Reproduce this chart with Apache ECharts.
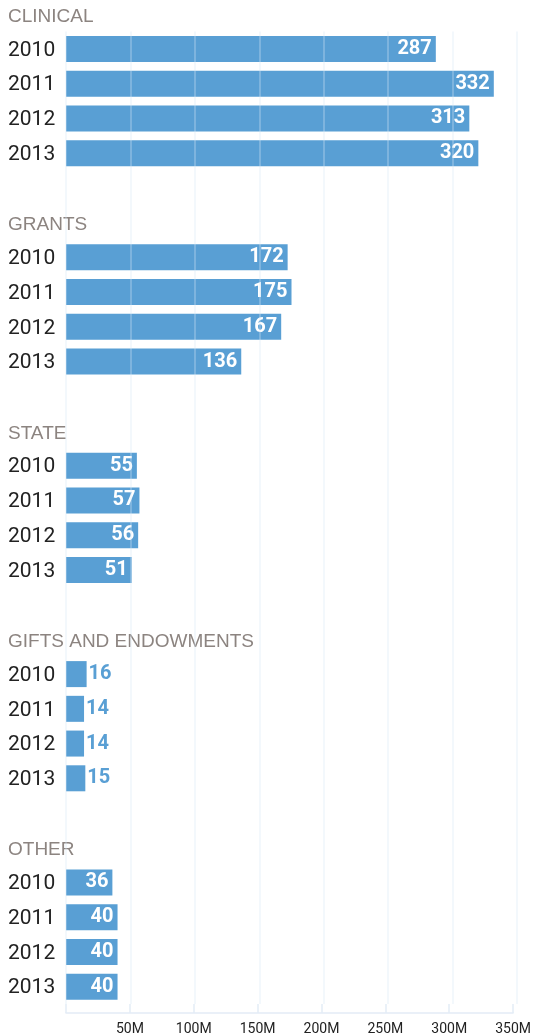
<!DOCTYPE html>
<html>
<head>
<meta charset="utf-8">
<script src="https://cdn.jsdelivr.net/npm/echarts@6/dist/echarts.min.js"></script>
<style>
html,body{margin:0;padding:0;background:#fff;}
#chart{width:534px;height:1036px;}
</style>
</head>
<body>
<div id="chart"></div>
<script>
// ---- data ----
var groups = ['CLINICAL', 'GRANTS', 'STATE', 'GIFTS AND ENDOWMENTS', 'OTHER'];
var years = ['2010', '2011', '2012', '2013'];
var clinical = [287, 332, 313, 320];
var grants = [172, 175, 167, 136];
var state = [55, 57, 56, 51];
var gifts = [16, 14, 14, 15];
var other = [36, 40, 40, 40];
var tickLabels = ['', '50M', '100M', '150M', '200M', '250M', '300M', '350M'];

var groupValues = [clinical, grants, state, gifts, other];

// ---- build rows ----
var NARROW = 'Roboto, "DejaVu Sans Condensed", sans-serif';
var SANS = '"Liberation Sans", Arial, sans-serif';
var BAR = '#599fd4';

var cats = [], vals = [], isHeader = [];
groupValues.forEach(function (arr, g) {
  if (g > 0) {
    cats.push(''); vals.push(null); isHeader.push(false);
    cats.push(groups[g]); vals.push(null); isHeader.push(true);
  }
  arr.forEach(function (v, i) {
    cats.push(years[i]);
    isHeader.push(false);
    if (v < 30) {
      vals.push({ value: v, label: { position: 'right', distance: 2, color: BAR } });
    } else {
      vals.push(v);
    }
  });
});

var rowH = 34.73;
var gridTop = 31.6;
var gridH = rowH * cats.length;

var chart = echarts.init(document.getElementById('chart'));
chart.setOption({
  animation: false,
  backgroundColor: '#fff',
  title: {
    text: groups[0],
    left: 8,
    top: 7,
    padding: 0,
    textStyle: { fontFamily: SANS, fontSize: 19, fontWeight: 'normal', color: '#8c8480' }
  },
  grid: [
    { left: 66, right: 17, top: gridTop, height: gridH },
    { left: 66, right: 17, top: gridTop + gridH, height: 11 }
  ],
  xAxis: [
    {
      gridIndex: 0, type: 'value', min: 0, max: 350, interval: 50, z: 3,
      axisLine: { show: false }, axisTick: { show: false }, axisLabel: { show: false },
      splitLine: { show: true, lineStyle: { color: 'rgba(215,230,246,0.4)', width: 1.5 } }
    },
    {
      gridIndex: 1, type: 'value', min: 0, max: 350, interval: 50, position: 'bottom',
      axisLine: { show: true, lineStyle: { color: '#e3ecf6', width: 1.5 } },
      axisTick: { show: false },
      splitLine: { show: true, lineStyle: { color: '#e3ecf6', width: 1.5 } },
      axisLabel: {
        margin: 9,
        fontFamily: NARROW, fontSize: 14, color: '#222',
        formatter: function (v) { return tickLabels[Math.round(v / 50)]; }
      }
    }
  ],
  yAxis: [
    {
      gridIndex: 0, type: 'category', data: cats, inverse: true,
      axisLine: { show: false }, axisTick: { show: false }, splitLine: { show: false },
      axisLabel: {
        align: 'left', margin: 58, interval: 0,
        formatter: function (v, idx) {
          if (!v) return '';
          return isHeader[idx] ? '{h|' + v + '}' : '{y|' + v + '}';
        },
        rich: {
          h: { fontFamily: SANS, fontSize: 19, color: '#8c8480', padding: [5, 0, 0, 0] },
          y: { fontFamily: NARROW, fontSize: 21, color: '#222', padding: [3, 0, 0, 0] }
        }
      }
    },
    { gridIndex: 1, type: 'value', show: false }
  ],
  series: [{
    type: 'bar',
    xAxisIndex: 0, yAxisIndex: 0,
    data: vals,
    barWidth: 26,
    itemStyle: { color: BAR },
    label: {
      show: true, position: 'insideRight', distance: 4,
      fontFamily: NARROW, fontSize: 20, fontWeight: 'bold', color: '#fff',
      formatter: function (p) { return String(p.value); }
    }
  }]
});
</script>
</body>
</html>
